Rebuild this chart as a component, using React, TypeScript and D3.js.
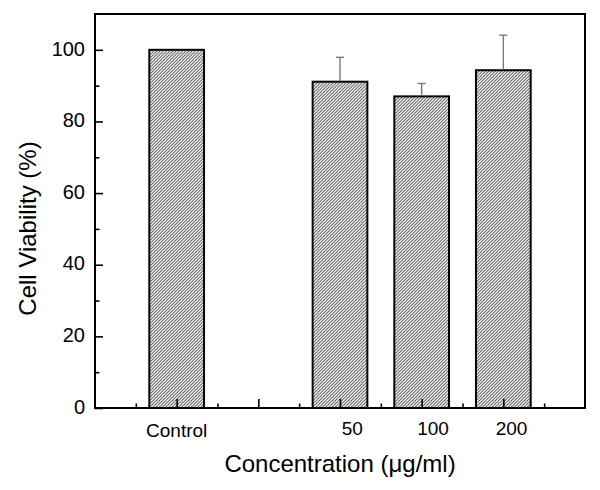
import React, { useRef, useEffect } from "react";
import * as d3 from "d3";

const categories = ["Control", "50", "100", "200"];
const barPositions = [1, 3, 4, 5];
const labelPositions = [1, 3.15, 4.14, 5.1];
const viability = [100, 91.1, 87.0, 94.3];
const errorUp = [0, 6.8, 3.6, 9.8];
const yMajorTicks = [0, 20, 40, 60, 80, 100];
const yMinorTicks = [10, 30, 50, 70, 90];
const xMajorTicks = [1, 2, 3, 4, 5];
const xMinorTicks = [0.5, 1.5, 2.5, 3.5, 4.5, 5.5];

const W = 600;
const H = 490;
const margin = { left: 95, right: 15, top: 14, bottom: 82 };
const FONT = "'Liberation Sans', Arial, Helvetica, sans-serif";

export default function App() {
  const ref = useRef<SVGSVGElement>(null);

  useEffect(() => {
    const svg = d3.select(ref.current);
    svg.selectAll("*").remove();

    const x = d3.scaleLinear().domain([0, 6]).range([margin.left, W - margin.right]);
    const y = d3.scaleLinear().domain([0, 110]).range([H - margin.bottom, margin.top]);
    const barW = x(0.67) - x(0);

    const defs = svg.append("defs");
    const pat = defs
      .append("pattern")
      .attr("id", "hatch")
      .attr("patternUnits", "userSpaceOnUse")
      .attr("width", 3.2)
      .attr("height", 3.2);
    pat.append("rect").attr("width", 3.2).attr("height", 3.2).attr("fill", "#fff");
    pat
      .append("path")
      .attr("d", "M-1,1 l2,-2 M0,3.2 l3.2,-3.2 M2.2,4.2 l2,-2")
      .attr("stroke", "#3a3a3a")
      .attr("stroke-width", 0.85);

    // bars
    svg
      .append("g")
      .selectAll("rect")
      .data(viability)
      .join("rect")
      .attr("x", (_, i) => x(barPositions[i]) - barW / 2)
      .attr("y", (d) => y(d))
      .attr("width", barW)
      .attr("height", (d) => y(0) - y(d))
      .attr("fill", "url(#hatch)")
      .attr("stroke", "#000")
      .attr("stroke-width", 2);

    // error bars
    const eg = svg.append("g").attr("stroke", "#7a7a7a").attr("stroke-width", 1.4);
    viability.forEach((v, i) => {
      if (!errorUp[i]) return;
      const cx = x(barPositions[i]);
      eg.append("line")
        .attr("x1", cx)
        .attr("x2", cx)
        .attr("y1", y(v) - 1)
        .attr("y2", y(v + errorUp[i]));
      eg.append("line")
        .attr("x1", cx - 4)
        .attr("x2", cx + 4)
        .attr("y1", y(v + errorUp[i]))
        .attr("y2", y(v + errorUp[i]));
    });

    const styleAxis = (g: any) => {
      g.select(".domain").remove();
      g.selectAll("line").attr("stroke", "#000").attr("stroke-width", 1.6);
      g.attr("font-family", FONT);
    };

    // y axis major
    svg
      .append("g")
      .attr("transform", `translate(${margin.left},0)`)
      .call(d3.axisLeft(y).tickValues(yMajorTicks).tickSize(-8).tickPadding(10))
      .call(styleAxis)
      .call((g: any) =>
        g.selectAll("text").attr("font-size", 20).attr("fill", "#000").attr("dy", "0.26em")
      );
    // y axis minor
    svg
      .append("g")
      .attr("transform", `translate(${margin.left},0)`)
      .call(d3.axisLeft(y).tickValues(yMinorTicks).tickSize(-4.5).tickFormat(() => ""))
      .call(styleAxis);

    // x axis major
    svg
      .append("g")
      .attr("transform", `translate(0,${H - margin.bottom})`)
      .call(d3.axisBottom(x).tickValues(xMajorTicks).tickSize(-9).tickFormat(() => ""))
      .call(styleAxis);
    svg
      .append("g")
      .attr("transform", `translate(0,${H - margin.bottom})`)
      .call(d3.axisBottom(x).tickValues(xMinorTicks).tickSize(-4.5).tickFormat(() => ""))
      .call(styleAxis);

    // frame
    svg
      .append("rect")
      .attr("x", margin.left)
      .attr("y", margin.top)
      .attr("width", W - margin.left - margin.right)
      .attr("height", H - margin.top - margin.bottom)
      .attr("fill", "none")
      .attr("stroke", "#000")
      .attr("stroke-width", 2);

    // category labels
    svg
      .append("g")
      .attr("font-family", FONT)
      .attr("font-size", 19)
      .attr("text-anchor", "middle")
      .selectAll("text")
      .data(categories)
      .join("text")
      .attr("x", (_, i) => x(labelPositions[i]))
      .attr("y", (_, i) => (i === 0 ? 436.5 : 434.5))
      .text((d) => d);

    // axis titles
    svg
      .append("text")
      .attr("font-family", FONT)
      .attr("font-size", 24)
      .attr("text-anchor", "middle")
      .attr("x", (margin.left + W - margin.right) / 2)
      .attr("y", 472)
      .text("Concentration (\u03bcg/ml)");

    svg
      .append("text")
      .attr("font-family", FONT)
      .attr("font-size", 24)
      .attr("text-anchor", "middle")
      .attr("transform", "translate(35.5,228.5) rotate(-90)")
      .text("Cell Viability (%)");
  }, []);

  return (
    <svg
      ref={ref}
      width={W}
      height={H}
      style={{ position: "absolute", left: 0, top: 0, background: "#fff" }}
    />
  );
}
